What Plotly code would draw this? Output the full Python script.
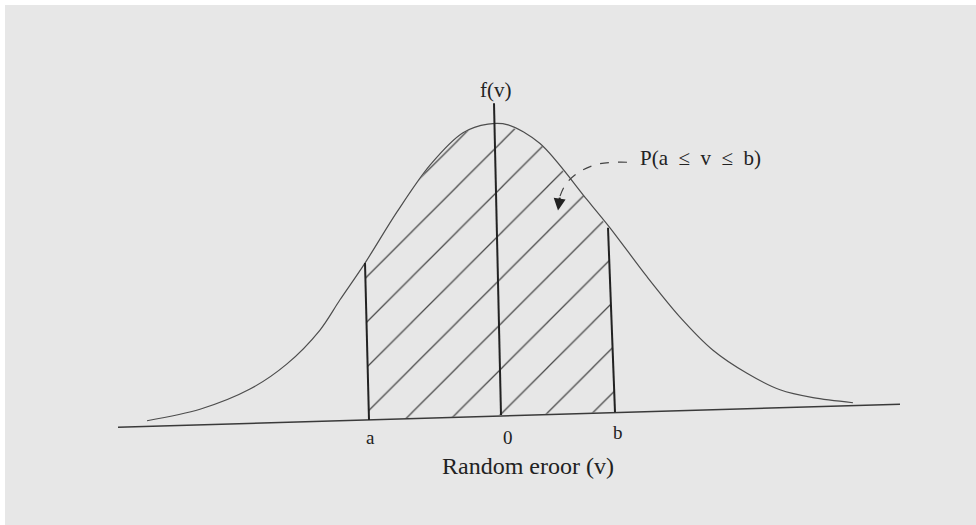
import plotly.graph_objects as go

# ---- data (v = random error, f = density) ----
curve_v = [-3.53, -3.00, -2.50, -2.13, -1.80, -1.60, -1.35, -1.03, -0.70, -0.37, -0.12, 0.08,
           0.40, 0.87, 1.10, 1.47, 1.80, 2.13, 2.47, 2.80, 3.13, 3.53]
curve_f = [-0.008, 0.008, 0.036, 0.071, 0.118, 0.160, 0.211, 0.282, 0.347, 0.392, 0.404, 0.403,
           0.377, 0.299, 0.260, 0.192, 0.136, 0.090, 0.058, 0.035, 0.024, 0.017]

axis_v = [-3.82, 4.00]
axis_f = [-0.017, 0.015]

a_v = [-1.35, -1.31]
a_f = [0.211, -0.007]
zero_v = [-0.06, 0.01]
zero_f = [0.433, 0.000]
b_v = [1.08, 1.15]
b_f = [0.260, 0.004]

# shaded region P(a <= v <= b)
region_v = [-1.31, -1.35, -1.03, -0.70, -0.37, -0.12, 0.08, 0.40, 0.87, 1.08, 1.15, 0.01, -1.31]
region_f = [-0.007, 0.211, 0.282, 0.347, 0.392, 0.404, 0.403, 0.377, 0.299, 0.260, 0.004, 0.000, -0.007]

pointer_v = [1.27, 1.00, 0.80, 0.66, 0.60]
pointer_f = [0.351, 0.349, 0.338, 0.321, 0.304]

tick_labels = ["a", "0", "b"]
x_title = "Random eroor (v)"
y_title = "f(v)"
prob_label = "P(a\u2002≤\u2002v\u2002≤\u2002b)"

font_family = "Liberation Serif"
ink = "#222222"

fig = go.Figure()

# hatched area
fig.add_trace(go.Scatter(
    x=region_v, y=region_f, mode="lines", fill="toself",
    line=dict(width=0, color="rgba(0,0,0,0)"),
    fillcolor="rgba(0,0,0,0)",
    fillpattern=dict(shape="/", size=32, solidity=0.04,
                     fgcolor="#484848", fgopacity=1, bgcolor="rgba(0,0,0,0)"),
    hoverinfo="skip"))

# normal curve
fig.add_trace(go.Scatter(x=curve_v, y=curve_f, mode="lines",
                         line=dict(color="#4d4d4d", width=1.2, shape="spline", smoothing=0.9),
                         hoverinfo="skip"))

# baseline
fig.add_trace(go.Scatter(x=axis_v, y=axis_f, mode="lines",
                         line=dict(color="#3a3a3a", width=1.5), hoverinfo="skip"))

# vertical lines
for vv, ff in [(a_v, a_f), (zero_v, zero_f), (b_v, b_f)]:
    fig.add_trace(go.Scatter(x=vv, y=ff, mode="lines",
                             line=dict(color="#222222", width=2), hoverinfo="skip"))

# pointer curve
fig.add_trace(go.Scatter(x=pointer_v, y=pointer_f, mode="lines",
                         line=dict(color="#444444", width=1.2, shape="spline", dash="dash"),
                         hoverinfo="skip"))

annotations = [
    dict(x=pointer_v[-1] - 0.02, y=pointer_f[-1] - 0.02, ax=pointer_v[-1], ay=pointer_f[-1],
         xref="x", yref="y", axref="x", ayref="y", text="", showarrow=True,
         arrowhead=2, arrowsize=1.2, arrowwidth=2, arrowcolor="#222222"),
    dict(x=-0.05, y=0.452, text=y_title, showarrow=False,
         font=dict(family=font_family, size=21, color=ink)),
    dict(x=1.38, y=0.357, text=prob_label, showarrow=False, xanchor="left",
         font=dict(family=font_family, size=21, color=ink)),
    dict(x=-1.30, y=-0.031, text=tick_labels[0], showarrow=False, borderpad=0,
         font=dict(family=font_family, size=19, color=ink)),
    dict(x=0.08, y=-0.031, text=tick_labels[1], showarrow=False, borderpad=0,
         font=dict(family=font_family, size=19, color=ink)),
    dict(x=1.18, y=-0.024, text=tick_labels[2], showarrow=False, borderpad=0,
         font=dict(family=font_family, size=19, color=ink)),
    dict(x=0.28, y=-0.071, text=x_title, showarrow=False, borderpad=0,
         font=dict(family=font_family, size=24, color=ink)),
]

fig.update_layout(
    width=976, height=525,
    margin=dict(l=5, r=0, t=5, b=0),
    paper_bgcolor="white",
    plot_bgcolor="#e7e7e7",
    showlegend=False,
    hovermode=False,
    annotations=annotations,
    xaxis=dict(range=[-4.95, 4.76], visible=False, fixedrange=True),
    yaxis=dict(range=[-0.1528, 0.5694], visible=False, fixedrange=True),
)

fig.write_html("out.html", config={"displayModeBar": False},
               post_script="document.body.style.margin='0';document.body.style.overflow='hidden';")
